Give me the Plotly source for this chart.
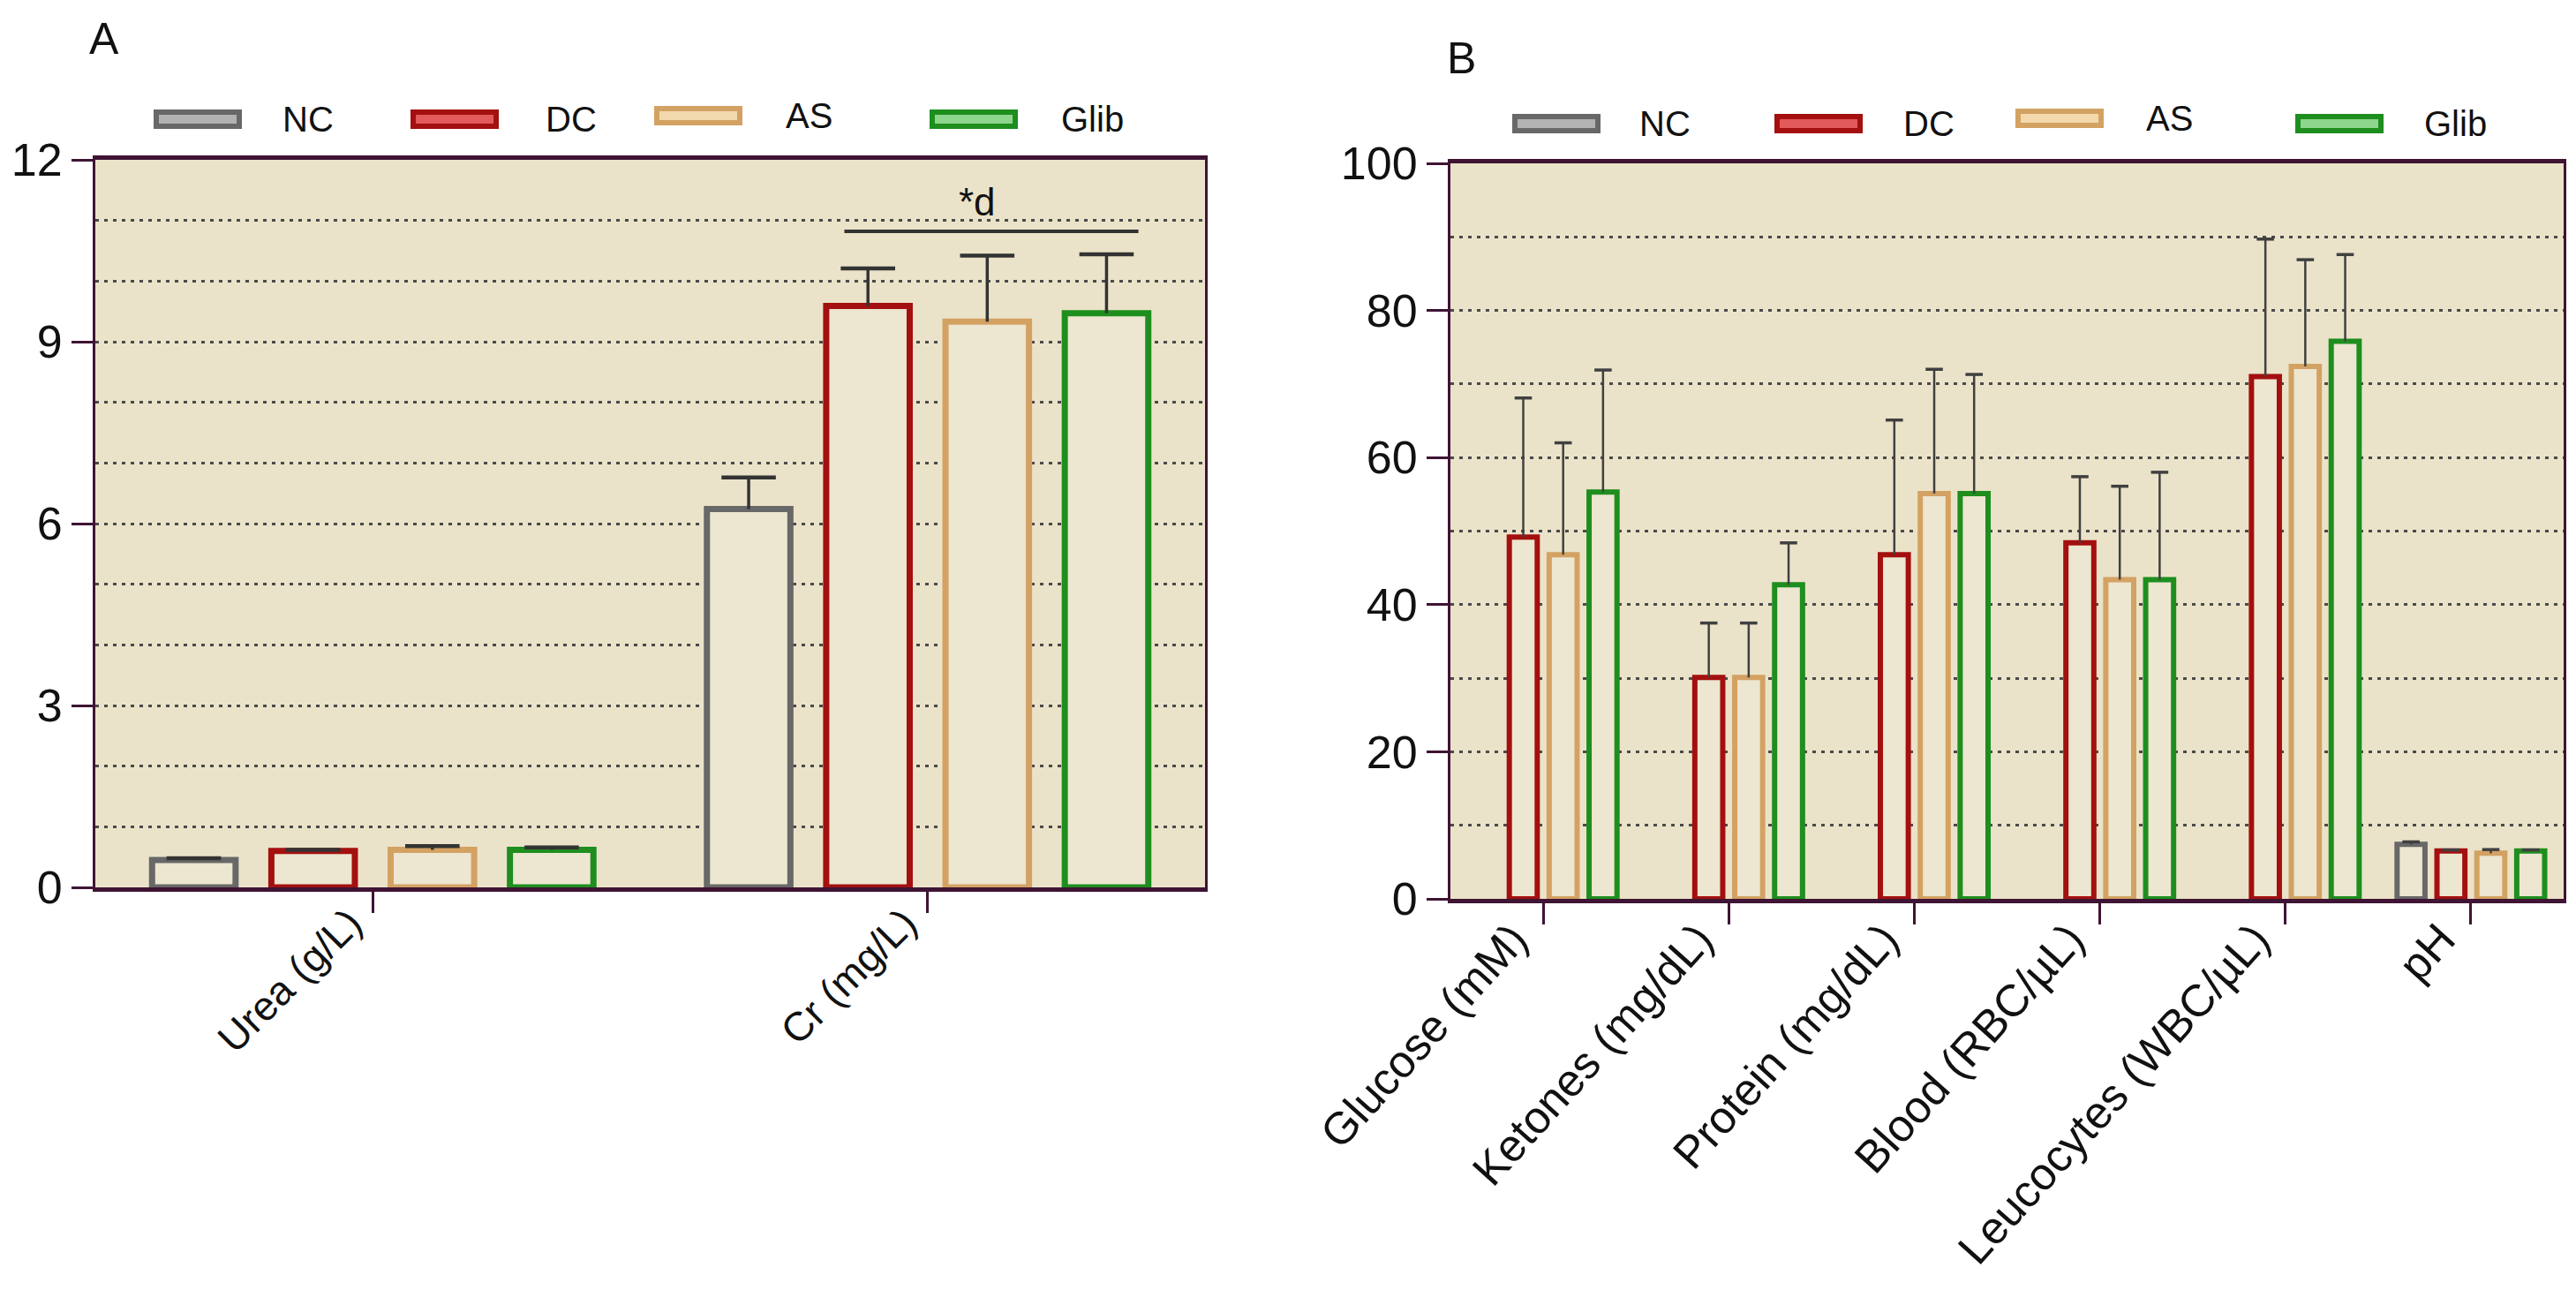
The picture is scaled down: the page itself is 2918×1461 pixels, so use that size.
import plotly.graph_objects as go

W, H = 2918, 1461
PAGE_MARGIN = 8  # default body margin of the html page

groups = ["NC", "DC", "AS", "Glib"]
line_colors = ["#686868", "#a3100f", "#d3a263", "#1e8e1e"]
swatch_inner = ["#b2b2b2", "#e25a5a", "#f3d9ad", "#8ed68e"]

# panel A - serum
serum_params = ["Urea (g/L)", "Cr (mg/L)"]
serum_nc = [0.45, 6.24]
serum_nc_err = [0.03, 0.52]
serum_dc = [0.60, 9.59]
serum_dc_err = [0.02, 0.62]
serum_as = [0.62, 9.33]
serum_as_err = [0.06, 1.09]
serum_glib = [0.62, 9.47]
serum_glib_err = [0.04, 0.97]

# panel B - urine
urine_params = ["Glucose (mM)", "Ketones (mg/dL)", "Protein (mg/dL)",
                "Blood (RBC/µL)", "Leucocytes (WBC/µL)", "pH"]
urine_nc = [None, None, None, None, None, 7.4]
urine_nc_err = [None, None, None, None, None, 0.35]
urine_dc = [49.2, 30.1, 46.8, 48.4, 71.0, 6.5]
urine_dc_err = [18.9, 7.4, 18.3, 9.0, 18.7, 0.15]
urine_as = [46.8, 30.1, 55.1, 43.4, 72.4, 6.2]
urine_as_err = [15.2, 7.4, 16.9, 12.7, 14.5, 0.5]
urine_glib = [55.3, 42.7, 55.1, 43.4, 75.8, 6.5]
urine_glib_err = [16.6, 5.7, 16.2, 14.6, 11.8, 0.15]

sig_label = "*d"
sig_y = 10.82

serum_vals = [serum_nc, serum_dc, serum_as, serum_glib]
serum_errs = [serum_nc_err, serum_dc_err, serum_as_err, serum_glib_err]
urine_vals = [urine_nc, urine_dc, urine_as, urine_glib]
urine_errs = [urine_nc_err, urine_dc_err, urine_as_err, urine_glib_err]

BG = "#ebe3c9"
BAR_FILL = "#ede6d0"
AXIS = "#3f1434"
GRID = "#4a4a4a"
FONT = "Liberation Sans, Arial, sans-serif"

FW, FH = W - 2 * PAGE_MARGIN, H - 2 * PAGE_MARGIN


def px(x):
    return (x - PAGE_MARGIN) / FW


def py(y):
    return 1 - (y - PAGE_MARGIN) / FH


fig = go.Figure()


def add_panel(params, vals, errs, xa, ya, bar_lw, err_w, err_col, cap):
    for name, v, e, col in zip(groups, vals, errs, line_colors):
        fig.add_trace(go.Bar(
            x=params, y=v, name=name, xaxis=xa, yaxis=ya,
            marker=dict(color=BAR_FILL, line=dict(color=col, width=bar_lw)),
            error_y=dict(type="data", symmetric=False, array=e,
                         arrayminus=[0 if q is not None else None for q in e],
                         width=0, thickness=err_w, color=err_col),
            showlegend=False, hoverinfo="x+y",
        ))
        tops = [a + b if a is not None else None for a, b in zip(v, e)]
        fig.add_trace(go.Scatter(
            x=params, y=tops, mode="markers", xaxis=xa, yaxis=ya,
            marker=dict(symbol="line-ew", size=cap,
                        line=dict(color=err_col, width=err_w + 1)),
            showlegend=False, hoverinfo="skip",
        ))


add_panel(serum_params, serum_vals, serum_errs, "x", "y", 7, 3.5, "#333333", 44)
add_panel(urine_params, urine_vals, urine_errs, "x2", "y2", 6, 2.5, "#404040", 14)

xcommon = dict(type="category", showgrid=False, zeroline=False, automargin=False,
               showline=True, linecolor=AXIS, linewidth=5, mirror=True,
               ticks="outside", ticklen=24, tickwidth=3, tickcolor=AXIS)
ycommon = dict(showgrid=True, gridcolor=GRID, gridwidth=2.5, griddash="4px,6px",
               zeroline=False, automargin=False, showline=True, linecolor=AXIS,
               linewidth=3, mirror=True, ticks="outside", ticklen=24, tickwidth=3,
               tickcolor=AXIS, tickfont=dict(family=FONT, size=52, color="#111"))

fig.update_layout(
    width=FW, height=FH,
    margin=dict(l=0, r=0, t=0, b=0),
    paper_bgcolor="white", plot_bgcolor=BG,
    barmode="group", bargap=0.14, bargroupgap=0.30,
    scattermode="group", scattergap=0.14,
    font=dict(family=FONT, color="#111"),
    xaxis=dict(xcommon, domain=[px(108), px(1365)], anchor="y",
               range=[-0.5, len(serum_params) - 0.5],
               tickangle=-45, ticklabelshift=-26, ticklabelstandoff=-34,
               tickfont=dict(family=FONT, size=46, color="#111")),
    yaxis=dict(ycommon, domain=[py(1005), py(181)], anchor="x",
               range=[0, 12], tickvals=[0, 3, 6, 9, 12],
               minor=dict(dtick=1, showgrid=True, gridcolor=GRID,
                          gridwidth=2.5, griddash="4px,6px")),
    xaxis2=dict(xcommon, domain=[px(1643), px(2904)], anchor="y2",
                range=[-0.5, len(urine_params) - 0.5],
                tickangle=-48, ticklabelshift=-34, ticklabelstandoff=-34,
                tickfont=dict(family=FONT, size=51, color="#111")),
    yaxis2=dict(ycommon, domain=[py(1018), py(185)], anchor="x2",
                range=[0, 100], dtick=20,
                minor=dict(dtick=10, showgrid=True, gridcolor=GRID,
                           gridwidth=2.5, griddash="4px,6px")),
)

# significance bar over DC..Glib in Cr group
fig.add_shape(type="line", xref="x", yref="y", x0=0.85, x1=1.38,
              y0=sig_y, y1=sig_y, line=dict(color="#333333", width=4))
fig.add_annotation(xref="x", yref="y", x=1.09, y=sig_y + 0.1, text=sig_label,
                   showarrow=False, yanchor="bottom",
                   font=dict(family=FONT, size=44, color="#111"))

# panel letters
fig.add_annotation(xref="paper", yref="paper", x=px(118), y=py(44), text="A",
                   showarrow=False, xanchor="center", yanchor="middle",
                   font=dict(family=FONT, size=50, color="#111"))
fig.add_annotation(xref="paper", yref="paper", x=px(1656), y=py(66), text="B",
                   showarrow=False, xanchor="center", yanchor="middle",
                   font=dict(family=FONT, size=50, color="#111"))

# hand-drawn legends (wide outlined swatches)
legend_a = dict(sw=[177, 468, 744, 1056], tx=[318, 616, 888, 1200], y=[135, 135, 131, 135])
legend_b = dict(sw=[1716, 2013, 2286, 2603], tx=[1855, 2154, 2429, 2744], y=[140, 140, 134, 140])
for leg in (legend_a, legend_b):
    for i, name in enumerate(groups):
        x0 = leg["sw"][i]
        yc = leg["y"][i]
        fig.add_shape(type="rect", xref="paper", yref="paper",
                      x0=px(x0), x1=px(x0 + 94), y0=py(yc + 8), y1=py(yc - 8),
                      line=dict(color=line_colors[i], width=6),
                      fillcolor=swatch_inner[i])
        fig.add_annotation(xref="paper", yref="paper", x=px(leg["tx"][i]), y=py(yc),
                           text=name, showarrow=False, xanchor="left", yanchor="middle",
                           font=dict(family=FONT, size=40, color="#111"))

fig.write_html("out.html")
